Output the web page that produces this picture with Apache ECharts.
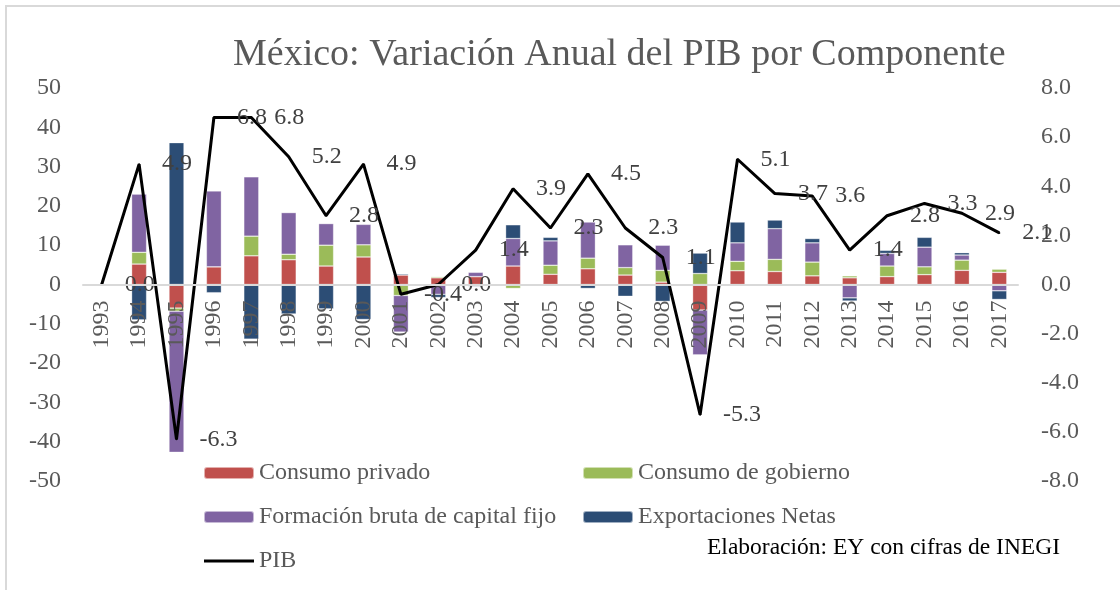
<!DOCTYPE html>
<html>
<head>
<meta charset="utf-8">
<title>México: Variación Anual del PIB por Componente</title>
<script src="https://cdn.jsdelivr.net/npm/echarts@6/dist/echarts.min.js"></script>
<style>
  html, body { margin: 0; padding: 0; background: #ffffff; }
  #chart { width: 1120px; height: 590px; }
</style>
</head>
<body>
<div id="chart"></div>
<script>
// Años y variación anual (%) por componente del PIB
const years = ['1993','1994','1995','1996','1997','1998','1999','2000','2001','2002','2003','2004','2005',
               '2006','2007','2008','2009','2010','2011','2012','2013','2014','2015','2016','2017'];

const consumoPrivado = [null, 5.2, -6.0, 4.5, 7.3, 6.3, 4.7, 7.0, 2.4, 1.7, 2.0, 4.7, 2.6,
                        4.0, 2.4, 0.6, -6.5, 3.5, 3.3, 2.2, 1.7, 2.0, 2.5, 3.6, 3.1];

const consumoGobierno = [null, 3.0, -0.8, 0.0, 5.0, 1.4, 5.3, 3.1, -2.8, 0.3, 0.0, -1.0, 2.3,
                         2.7, 1.9, 3.0, 2.8, 2.4, 3.1, 3.5, 0.5, 2.7, 2.0, 2.6, 0.8];

const formacionCapital = [null, 14.8, -35.9, 19.3, 15.1, 10.6, 5.5, 5.2, -9.3, -2.5, 1.1, 7.0, 6.2,
                          9.2, 5.8, 6.4, -11.4, 4.7, 7.8, 4.9, -3.4, 3.2, 5.0, 1.3, -1.6];

const exportacionesNetas = [null, -9.0, 36.1, -2.1, -13.9, -7.5, -6.2, -8.9, 0.3, -0.8, -0.5, 3.5, 0.9,
                            -1.0, -3.0, -4.3, 5.2, 5.3, 2.2, 1.1, -0.8, 0.8, 2.5, 0.6, -2.2];

const pib = [0.0, 4.9, -6.3, 6.8, 6.8, 5.2, 2.8, 4.9, -0.4, 0.0, 1.4, 3.9, 2.3,
             4.5, 2.3, 1.1, -5.3, 5.1, 3.7, 3.6, 1.4, 2.8, 3.3, 2.9, 2.1];

const FONT = '"Liberation Serif", "DejaVu Serif", serif';
const GRAY = '#595959';

// Plot area geometry (pixels)
const GRID_TOP = 88, GRID_BOTTOM = 109, CHART_H = 590;
const LEFT_MIN = -50, LEFT_MAX = 50;
const plotH = CHART_H - GRID_TOP - GRID_BOTTOM;
// distance from the bottom edge of the plot up to the zero line
const zeroOffset = plotH * (0 - LEFT_MIN) / (LEFT_MAX - LEFT_MIN);

const chart = echarts.init(document.getElementById('chart'), null, { renderer: 'canvas' });

function barSeries(name, data, color) {
  return {
    name: name,
    type: 'bar',
    stack: 'componentes',
    yAxisIndex: 0,
    barWidth: 15,
    data: data,
    itemStyle: { color: color, borderColor: 'rgba(255,255,255,0.55)', borderWidth: 0.6 },
    emphasis: { disabled: true }
  };
}

const legendText = { fontFamily: FONT, fontSize: 24, color: GRAY, lineHeight: 24 };

const option = {
  animation: false,
  backgroundColor: '#ffffff',
  textStyle: { fontFamily: FONT },
  title: {
    text: 'México: Variación Anual del PIB por Componente',
    left: 228,
    top: 31,
    textStyle: { fontFamily: FONT, fontSize: 38, fontWeight: 'normal', color: GRAY }
  },
  graphic: [
    {
      type: 'rect',
      shape: { x: 6, y: 6, width: 1300, height: 800 },
      style: { fill: null, stroke: '#d9d9d9', lineWidth: 2 },
      silent: true
    },
    {
      type: 'text',
      left: 707,
      top: 536,
      style: { text: 'Elaboración: EY con cifras de INEGI', font: '23.5px ' + FONT, fill: '#000000' },
      silent: true
    }
  ],
  legend: [
    {
      orient: 'vertical',
      left: 198,
      top: 456,
      itemWidth: 50,
      itemHeight: 12,
      itemGap: 20,
      textStyle: legendText,
      data: [
        'Consumo privado',
        'Formación bruta de capital fijo',
        { name: 'PIB', icon: 'path://M0,0 L50,0 L50,3 L0,3 Z' }
      ],
      selectedMode: false
    },
    {
      orient: 'vertical',
      left: 577,
      top: 456,
      itemWidth: 50,
      itemHeight: 12,
      itemGap: 20,
      textStyle: legendText,
      data: ['Consumo de gobierno', 'Exportaciones Netas'],
      selectedMode: false
    }
  ],
  grid: { left: 83, right: 102, top: GRID_TOP, bottom: GRID_BOTTOM, containLabel: false },
  xAxis: {
    type: 'category',
    data: years,
    boundaryGap: true,
    z: 10,
    offset: -zeroOffset,
    axisLine: { onZero: false, lineStyle: { color: '#d9d9d9', width: 2 } },
    axisTick: { show: false },
    axisLabel: { rotate: 90, margin: 16, fontFamily: FONT, fontSize: 24, color: GRAY, interval: 0 },
    splitLine: { show: false }
  },
  yAxis: [
    {
      type: 'value',
      min: LEFT_MIN, max: LEFT_MAX, interval: 10,
      axisLine: { show: false },
      axisTick: { show: false },
      splitLine: { show: false },
      axisLabel: { margin: 22, fontFamily: FONT, fontSize: 24, color: GRAY }
    },
    {
      type: 'value',
      min: -8, max: 8, interval: 2,
      position: 'right',
      axisLine: { show: false },
      axisTick: { show: false },
      splitLine: { show: false },
      axisLabel: {
        margin: 23, fontFamily: FONT, fontSize: 24, color: GRAY,
        formatter: v => v.toFixed(1)
      }
    }
  ],
  series: [
    barSeries('Consumo privado', consumoPrivado, '#C0504D'),
    barSeries('Consumo de gobierno', consumoGobierno, '#9BBB59'),
    barSeries('Formación bruta de capital fijo', formacionCapital, '#8064A2'),
    barSeries('Exportaciones Netas', exportacionesNetas, '#2C4D75'),
    {
      name: 'PIB',
      type: 'line',
      yAxisIndex: 1,
      data: pib,
      symbol: 'circle',
      symbolSize: 2,
      showSymbol: true,
      showAllSymbol: true,
      lineStyle: { color: '#000000', width: 3 },
      itemStyle: { color: '#000000' },
      z: 5,
      label: {
        show: true,
        position: 'right',
        distance: 22,
        fontFamily: FONT,
        fontSize: 24,
        color: '#404040',
        formatter: p => p.value.toFixed(1)
      },
      emphasis: { disabled: true }
    }
  ]
};

chart.setOption(option);
</script>
</body>
</html>
